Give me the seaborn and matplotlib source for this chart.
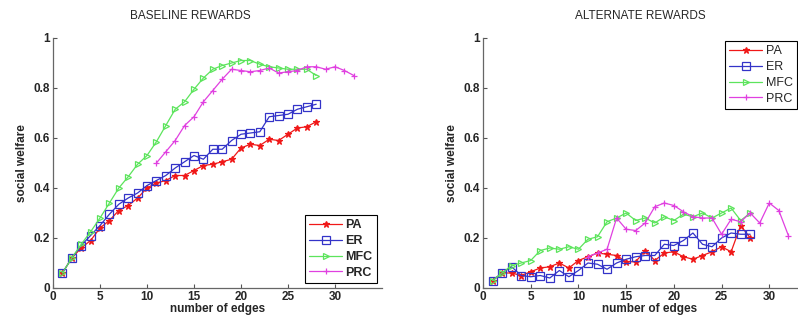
import numpy as np
import pandas as pd
import seaborn as sns
import matplotlib.pyplot as plt

# x positions
edges = list(range(1, 29))
edges_prc = list(range(11, 33))

# BASELINE REWARDS
base_pa = [0.06, 0.12, 0.16, 0.19, 0.24, 0.27, 0.31, 0.33, 0.36, 0.40, 0.42, 0.43, 0.45, 0.45,
           0.47, 0.49, 0.495, 0.505, 0.515, 0.56, 0.575, 0.57, 0.595, 0.59, 0.615, 0.64, 0.645, 0.665]
base_er = [0.06, 0.12, 0.17, 0.21, 0.25, 0.295, 0.335, 0.36, 0.38, 0.41, 0.43, 0.45, 0.48, 0.505,
           0.53, 0.515, 0.555, 0.555, 0.59, 0.615, 0.62, 0.625, 0.685, 0.69, 0.695, 0.715, 0.725, 0.735]
base_mfc = [0.06, 0.12, 0.175, 0.225, 0.28, 0.34, 0.40, 0.445, 0.495, 0.53, 0.585, 0.65, 0.715, 0.745,
            0.795, 0.84, 0.875, 0.89, 0.90, 0.91, 0.91, 0.895, 0.885, 0.88, 0.875, 0.875, 0.875, 0.85]
base_prc = [0.50, 0.545, 0.59, 0.65, 0.685, 0.745, 0.79, 0.835, 0.875, 0.87, 0.865, 0.87, 0.88,
            0.86, 0.865, 0.87, 0.885, 0.885, 0.875, 0.885, 0.87, 0.85]

# ALTERNATE REWARDS
alt_pa = [0.03, 0.06, 0.06, 0.05, 0.065, 0.08, 0.085, 0.10, 0.08, 0.11, 0.125, 0.14, 0.135, 0.13,
          0.105, 0.105, 0.15, 0.11, 0.14, 0.145, 0.125, 0.115, 0.13, 0.145, 0.165, 0.145, 0.25, 0.20]
alt_er = [0.03, 0.06, 0.085, 0.05, 0.045, 0.05, 0.04, 0.07, 0.045, 0.07, 0.10, 0.095, 0.075, 0.10,
          0.115, 0.125, 0.13, 0.13, 0.175, 0.17, 0.19, 0.22, 0.175, 0.165, 0.20, 0.22, 0.215, 0.215]
alt_mfc = [0.03, 0.06, 0.09, 0.10, 0.11, 0.15, 0.16, 0.155, 0.165, 0.155, 0.195, 0.205, 0.265, 0.28,
           0.30, 0.27, 0.28, 0.26, 0.285, 0.27, 0.295, 0.285, 0.30, 0.28, 0.30, 0.32, 0.27, 0.30]
alt_prc = [0.125, 0.14, 0.155, 0.28, 0.235, 0.23, 0.26, 0.325, 0.34, 0.33, 0.305, 0.285, 0.28,
           0.28, 0.215, 0.275, 0.265, 0.30, 0.26, 0.34, 0.31, 0.21]

labels = ['PA', 'ER', 'MFC', 'PRC']
colors = ['#f01818', '#3333c8', '#5ce45c', '#e040e0']
markers = ['*', 's', '>', '+']
xticks = [0, 5, 10, 15, 20, 25, 30]
yticks = [0, 0.2, 0.4, 0.6, 0.8, 1]
yticklabels = ['0', '0.2', '0.4', '0.6', '0.8', '1']

sns.set_style('ticks')
plt.rcParams['font.family'] = ['Liberation Sans', 'DejaVu Sans']

fig = plt.figure(figsize=(7.98, 3.25), dpi=100)
W, H = 798, 325
ax1 = fig.add_axes([53 / W, 37 / H, 329 / W, 250 / H])
ax2 = fig.add_axes([483 / W, 37 / H, 334 / W, 250 / H])


def draw_panel(ax, series, sq_size, leg_kw, legend_bold):
    for (xs, ys), lab, c, m in zip(series, labels, colors, markers):
        df = pd.DataFrame({'x': xs, 'y': ys})
        open_marker = m in ('s', '>')
        sns.lineplot(data=df, x='x', y='y', ax=ax, color=c, label=lab, linewidth=0.9,
                     marker=m, markersize=sq_size if m == 's' else 4.5,
                     markerfacecolor='none' if open_marker else c,
                     markeredgecolor=c, markeredgewidth=0.9)
    ax.set_xlim(0, 35)
    ax.set_ylim(0, 1)
    ax.set_xticks(xticks)
    ax.set_yticks(yticks)
    ax.set_yticklabels(yticklabels)
    ax.tick_params(direction='in', length=3, width=0.8, color='#555555', labelsize=8.5, pad=2)
    for t in ax.get_xticklabels() + ax.get_yticklabels():
        t.set_fontweight('bold')
    for s in ['left', 'bottom']:
        ax.spines[s].set_color('#666666')
        ax.spines[s].set_linewidth(0.9)
    ax.spines['top'].set_visible(False)
    ax.spines['right'].set_visible(False)
    ax.set_xlabel('number of edges', fontsize=8.5, fontweight='bold', labelpad=0)
    ax.set_ylabel('social welfare', fontsize=8.5, fontweight='bold', labelpad=4)
    leg = ax.legend(fancybox=False, framealpha=1, edgecolor='black',
                    handlelength=2.6, handletextpad=0.3, borderpad=0.35,
                    labelspacing=0.3,
                    prop={'weight': 'bold' if legend_bold else 'normal', 'size': 9},
                    **leg_kw)
    leg.get_frame().set_linewidth(0.8)


draw_panel(ax1, [(edges, base_pa), (edges, base_er), (edges, base_mfc), (edges_prc, base_prc)],
           6, dict(loc='lower right', borderaxespad=0.4), True)
draw_panel(ax2, [(edges, alt_pa), (edges, alt_er), (edges, alt_mfc), (edges_prc, alt_prc)],
           5.5, dict(loc='upper right', bbox_to_anchor=(797 / W, 1 - 41 / H),
                     bbox_transform=fig.transFigure, borderaxespad=0), False)

fig.text(190 / W, 1 - 16 / H, 'BASELINE REWARDS', ha='center', va='center', fontsize=8.5)
fig.text(640 / W, 1 - 16 / H, 'ALTERNATE REWARDS', ha='center', va='center', fontsize=8.5)

fig.savefig('out.png', dpi=100)
